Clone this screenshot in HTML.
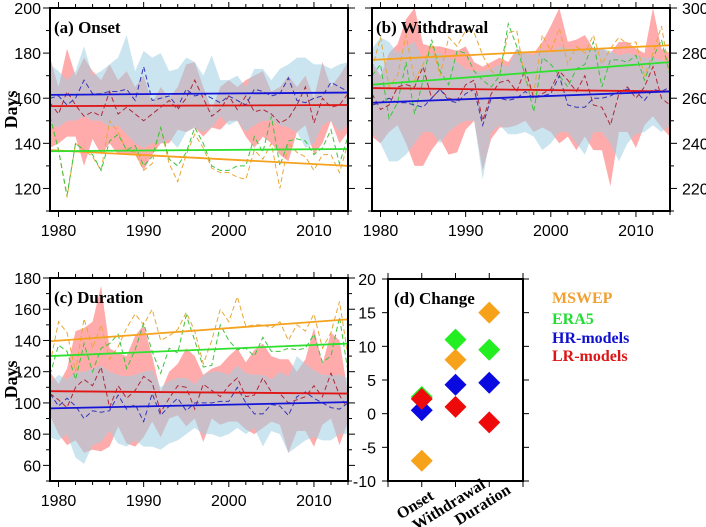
<!DOCTYPE html>
<html><head><meta charset="utf-8"><style>
body{margin:0;background:#fff;}
svg{display:block;}
text{font-family:"Liberation Sans",sans-serif;}
.ttl{font-family:"Liberation Serif",serif;font-weight:bold;}
</style></head><body>
<svg id="chart" width="706" height="527" viewBox="0 0 706 527" xmlns="http://www.w3.org/2000/svg"></svg>
<script>
const years = Array.from({length:36},(_,i)=>1979+i);
// Panel (a) Onset
const aMSWEP=[152,137,116,140,137,134,128,150,145,137,136,128,131,147,131,123,135,144,138,129,127,127,125,124,137,133,140,120,140,136,134,128,135,135,127,140];
const aERA5=[152,137,117,140,137,135,128,141,144,137,139,130,134,147,133,130,136,147,140,130,128,128,130,130,143,136,152,130,141,142,141,135,138,146,131,143];
const aHR=[160,161,157,160,168,162,162,163,163,164,159,174,159,160,161,156,164,161,162,160,158,161,159,157,164,163,161,162,169,159,158,160,161,167,165,163];
const aLR=[158,153,163,157,152,154,152,163,153,156,153,150,153,156,159,155,160,168,160,152,155,161,155,161,154,155,153,149,151,157,165,149,160,156,157,162];
const aBlueUp=[175,172,168,172,183,170,172,175,178,188,172,181,178,180,172,173,178,176,170,179,168,168,170,165,173,173,168,173,175,178,178,175,175,173,175,176];
const aBlueLo=[148,147,150,150,152,150,150,147,148,144,140,138,140,140,142,138,145,147,145,147,152,148,150,145,148,150,150,148,147,145,138,140,148,150,145,148];
const aRedUp=[178,165,182,170,178,172,168,175,168,172,165,170,158,165,160,165,175,176,165,155,165,168,165,168,170,172,163,165,170,165,170,160,176,165,170,176];
const aRedLo=[138,140,143,143,130,142,135,140,135,135,135,128,135,140,140,146,145,147,143,147,146,150,150,143,138,143,140,135,132,145,148,135,140,150,140,145];
const aTrend={MSWEP:[137,130],ERA5:[136.5,137.5],HR:[161.5,162.5],LR:[156.5,157]};
// Panel (b) Withdrawal
const bMSWEP=[273,287,265,270,288,268,275,284,270,287,283,290,289,279,272,270,289,290,268,262,288,281,291,275,283,280,288,275,282,287,284,285,270,280,292,270];
const bERA5=[270,275,251,258,276,253,268,286,272,266,281,280,272,268,265,270,293,283,270,254,278,275,270,265,273,275,285,265,277,277,276,279,268,278,286,270];
const bHR=[257,258,260,258,258,257,256,260,264,259,258,262,264,248,260,260,259,260,263,260,261,262,270,257,256,256,260,260,261,263,264,263,259,264,263,265];
const bLR=[262,255,257,265,266,265,274,260,264,260,259,266,268,250,262,267,268,263,273,260,262,264,272,268,263,270,257,256,248,262,265,260,265,274,260,257];
const bBlueUp=[282,287,285,280,283,285,277,280,280,278,276,273,272,272,273,275,274,282,280,279,282,280,283,282,282,281,282,282,281,279,280,279,278,278,277,275];
const bBlueLo=[245,240,232,232,235,240,245,245,240,245,248,250,250,224,245,248,244,244,245,243,237,240,245,245,240,235,245,245,240,232,240,244,245,248,245,248];
const bRedUp=[276,270,280,284,295,300,284,283,283,282,281,283,276,274,276,278,276,282,280,280,285,292,300,285,286,288,282,282,280,285,285,282,280,300,282,280];
const bRedLo=[243,240,245,248,240,230,230,237,242,235,236,246,250,228,242,247,247,248,250,245,247,245,240,243,237,243,237,237,221,245,245,238,248,252,247,243];
const bTrend={MSWEP:[277,283.5],ERA5:[266,276],HR:[258,263],LR:[264.5,263]};
// Panel (c) Duration
const cMSWEP=[125,152,145,120,154,135,150,128,136,148,157,150,160,140,143,147,158,146,125,140,160,152,168,149,150,150,148,152,140,150,146,157,135,145,165,130];
const cERA5=[118,137,133,115,138,120,135,138,144,122,134,151,133,119,135,132,156,140,123,124,150,140,134,135,130,142,133,133,135,134,135,144,126,130,155,120];
const cHR=[106,98,103,98,90,95,94,95,105,96,99,88,106,92,98,103,95,100,100,100,101,101,110,100,93,93,99,98,92,104,107,103,100,97,96,100];
const cLR=[106,102,97,110,115,111,123,97,111,103,108,117,113,94,103,111,110,96,112,108,104,111,116,104,105,116,107,106,100,102,104,111,104,119,105,96];
const cBlueUp=[113,118,115,120,120,122,124,120,118,117,118,120,121,110,114,116,116,112,118,120,120,118,124,119,118,118,115,120,117,130,125,121,118,118,118,116];
const cBlueLo=[78,76,80,65,61,73,75,82,74,72,76,72,72,70,74,76,80,84,80,80,78,80,84,80,84,72,82,80,68,72,76,78,76,76,80,80];
const cRedUp=[120,112,122,146,148,152,175,135,132,130,143,150,130,107,120,125,135,130,118,122,124,130,135,126,134,138,130,128,128,120,128,148,125,145,140,106];
const cRedLo=[92,80,73,76,68,70,69,72,85,74,72,78,88,78,90,92,85,90,75,90,86,88,88,83,80,84,88,86,68,82,82,72,86,90,73,88];
const cTrend={MSWEP:[139.5,153.5],ERA5:[130,138],HR:[96.5,100.5],LR:[107.5,106]};
// Panel (d) Change
const dCategories=["Onset","Withdrawal","Duration"];
const dMSWEP=[-7,8,15];
const dERA5=[2.5,11,9.5];
const dHR=[0.5,4.3,4.6];
const dLR=[2.2,1,-1.3];
const dTicks=[20,15,10,5,0,-5,-10];

const NS="http://www.w3.org/2000/svg";
const svg=document.getElementById('chart');
function el(tag,attrs,parent){const e=document.createElementNS(NS,tag);for(const k in attrs)e.setAttribute(k,attrs[k]);(parent||svg).appendChild(e);return e;}
const COL={MSWEP:'#f5a21e',ERA5:'#2fe02f',HR:'#1515d8',LR:'#e01515'};
const DCOL={MSWEP:'#e8a838',ERA5:'#3cc43c',HR:'#3535b8',LR:'#b02838'};

function panel(cfg){
  const g=el('g',{});
  
  
  const X=y=>cfg.x0+(y-1979)/(2014-1979)*(cfg.x1-cfg.x0);
  const Y=v=>cfg.y0+(cfg.vmax-v)/(cfg.vmax-cfg.vmin)*(cfg.y1-cfg.y0);
  const clip='clip-'+cfg.name;
  const cp=el('clipPath',{id:clip},g);
  el('rect',{x:cfg.x0,y:cfg.y0,width:cfg.x1-cfg.x0,height:cfg.y1-cfg.y0},cp);
  const inner=el('g',{'clip-path':'url(#'+clip+')'},g);
  function band(up,lo,fill,op,nm){
    let d='M'+years.map((yr,i)=>X(yr)+','+Y(up[i])).join('L');
    d+='L'+years.slice().reverse().map((yr,j)=>{const i=years.length-1-j;return X(yr)+','+Y(lo[i]);}).join('L')+'Z';
    const p=el('path',{d:d,fill:fill,'fill-opacity':op},inner);
    
    
  }
  band(cfg.redUp,cfg.redLo,'#ff8f8f',0.75,'lr-models-range');
  band(cfg.blueUp,cfg.blueLo,'#9fd0e2',0.55,'hr-models-range');
  for(const k of ['MSWEP','ERA5','LR','HR']){
    const s=cfg.series[k];
    const p=el('polyline',{points:years.map((yr,i)=>X(yr)+','+Y(s[i])).join(' '),fill:'none',stroke:DCOL[k],'stroke-width':1,'stroke-dasharray':'5,3'},inner);
    
    
  }
  for(const k of ['MSWEP','ERA5','LR','HR']){
    const t=cfg.trend[k];
    const l=el('line',{x1:X(1979),y1:Y(t[0]),x2:X(2014),y2:Y(t[1]),stroke:COL[k],'stroke-width':1.8},inner);
    
    
  }
  const fr=el('rect',{x:cfg.x0,y:cfg.y0,width:cfg.x1-cfg.x0,height:cfg.y1-cfg.y0,fill:'none',stroke:'#000','stroke-width':2},g);
  
  
  for(let yr=1980;yr<=2014;yr+=2){
    const major=yr%10===0, len=major?6:4;
    el('line',{x1:X(yr),y1:cfg.y1,x2:X(yr),y2:cfg.y1+len,stroke:'#000','stroke-width':1},g);
    el('line',{x1:X(yr),y1:cfg.y0,x2:X(yr),y2:cfg.y0-len,stroke:'#000','stroke-width':1},g);
    if(major){const t=el('text',{x:X(yr),y:cfg.y1+25,'text-anchor':'middle','font-size':16},g);t.textContent=yr;
      }
  }
  for(let v=cfg.vmin;v<=cfg.vmax;v+=cfg.minor){
    const major=(v%cfg.major===0), len=major?7:4;
    el('line',{x1:cfg.x0,y1:Y(v),x2:cfg.x0-len,y2:Y(v),stroke:'#000','stroke-width':1},g);
    el('line',{x1:cfg.x1,y1:Y(v),x2:cfg.x1+len,y2:Y(v),stroke:'#000','stroke-width':1},g);
    if(major && v>=cfg.labMin){
      const right=cfg.rightLabels;
      const t=el('text',{x:right?cfg.x1+12:cfg.x0-9,y:Y(v)+6,'text-anchor':right?'start':'end','font-size':16},g);t.textContent=v;
      
    }
  }
  const tt=el('text',{x:cfg.x0+4,y:cfg.y0+25,'font-size':17,class:'ttl'},g);tt.textContent=cfg.title;
  
  if(cfg.ylabel){const t=el('text',{x:0,y:0,'font-size':18,class:'ttl','text-anchor':'middle',transform:'translate(17,'+((cfg.y0+cfg.y1)/2)+') rotate(-90)'},g);t.textContent='Days';
    }
}
panel({name:'onset-panel',title:'(a) Onset',x0:50,x1:348,y0:8,y1:211,vmin:110,vmax:200,major:20,minor:10,labMin:120,ylabel:true,rightLabels:false,
  series:{MSWEP:aMSWEP,ERA5:aERA5,HR:aHR,LR:aLR},trend:aTrend,blueUp:aBlueUp,blueLo:aBlueLo,redUp:aRedUp,redLo:aRedLo});
panel({name:'withdrawal-panel',title:'(b) Withdrawal',x0:372,x1:670,y0:8,y1:211,vmin:210,vmax:300,major:20,minor:10,labMin:220,ylabel:false,rightLabels:true,
  series:{MSWEP:bMSWEP,ERA5:bERA5,HR:bHR,LR:bLR},trend:bTrend,blueUp:bBlueUp,blueLo:bBlueLo,redUp:bRedUp,redLo:bRedLo});
panel({name:'duration-panel',title:'(c) Duration',x0:50,x1:348,y0:278,y1:481,vmin:50,vmax:180,major:20,minor:10,labMin:60,ylabel:true,rightLabels:false,
  series:{MSWEP:cMSWEP,ERA5:cERA5,HR:cHR,LR:cLR},trend:cTrend,blueUp:cBlueUp,blueLo:cBlueLo,redUp:cRedUp,redLo:cRedLo});

(function(){
  const x0=388,x1=523,y0=279,y1=481,vmin=-10,vmax=20;
  const g=el('g',{});
  
  
  const X=i=>x0+(i+1)/4*(x1-x0);
  const Y=v=>y0+(vmax-v)/(vmax-vmin)*(y1-y0);
  el('rect',{x:x0,y:y0,width:x1-x0,height:y1-y0,fill:'none',stroke:'#000','stroke-width':2},g);
  for(let i=-1;i<=3;i++){
    el('line',{x1:X(i),y1:y1,x2:X(i),y2:y1+6,stroke:'#000'},g);
    el('line',{x1:X(i),y1:y0,x2:X(i),y2:y0-6,stroke:'#000'},g);
  }
  dTicks.forEach(v=>{
    el('line',{x1:x0,y1:Y(v),x2:x0-6,y2:Y(v),stroke:'#000'},g);
    el('line',{x1:x1,y1:Y(v),x2:x1+6,y2:Y(v),stroke:'#000'},g);
    const t=el('text',{x:x0-12,y:Y(v)+6,'text-anchor':'end','font-size':16},g);t.textContent=v;
    
  });
  dCategories.forEach((c,i)=>{
    const t=el('text',{x:0,y:0,'font-size':16,class:'ttl','text-anchor':'middle',transform:'translate('+(X(i)-4)+','+(y1+28)+') rotate(-32)'},g);t.textContent=c;
    
  });
  const tt=el('text',{x:x0+6,y:y0+25,'font-size':17,class:'ttl'},g);tt.textContent='(d) Change';
  
  const sets=[['MSWEP',dMSWEP],['ERA5',dERA5],['HR',dHR],['LR',dLR]];
  sets.forEach(([k,arr])=>{
    arr.forEach((v,i)=>{
      const cx=X(i),cy=Y(v),r=11;
      const p=el('polygon',{points:`${cx},${cy-r} ${cx+r},${cy} ${cx},${cy+r} ${cx-r},${cy}`,fill:k==='MSWEP'?'#f7a21b':k==='ERA5'?'#22ee22':k==='HR'?'#0a0ae0':'#ee0a0a'},g);
      
      
    });
  });
  const leg=[['MSWEP','#f0a030',303],['ERA5','#22dd33',324],['HR-models','#1010d0',343],['LR-models','#dd1515',361]];
  leg.forEach(([n,c,y])=>{
    const t=el('text',{x:552,y:y,'font-size':16,class:'ttl',fill:c},g);t.textContent=n;
    
  });
})();
</script>
</body></html>
